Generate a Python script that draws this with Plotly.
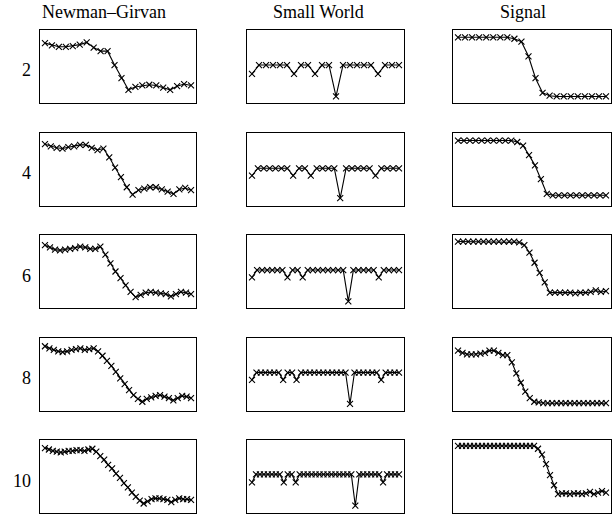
import plotly.graph_objects as go

methods = ["Newman–Girvan", "Small World", "Signal"]
row_labels = ["2", "4", "6", "8", "10"]

# Newman–Girvan series (one per row)
ng_2 = [0.82, 0.79, 0.77, 0.77, 0.78, 0.80, 0.83, 0.76, 0.71, 0.71, 0.52, 0.34, 0.18, 0.22, 0.24, 0.25, 0.24, 0.21, 0.18, 0.23, 0.26, 0.24]
ng_4 = [0.84, 0.81, 0.79, 0.78, 0.80, 0.81, 0.83, 0.83, 0.79, 0.76, 0.78, 0.66, 0.52, 0.39, 0.25, 0.15, 0.21, 0.23, 0.25, 0.25, 0.22, 0.19, 0.16, 0.22, 0.24, 0.21]
ng_6 = [0.86, 0.83, 0.80, 0.79, 0.80, 0.81, 0.82, 0.84, 0.83, 0.81, 0.81, 0.84, 0.73, 0.61, 0.50, 0.41, 0.31, 0.22, 0.15, 0.18, 0.21, 0.22, 0.21, 0.20, 0.19, 0.16, 0.19, 0.22, 0.21, 0.19]
ng_8 = [0.88, 0.85, 0.83, 0.81, 0.80, 0.81, 0.83, 0.84, 0.85, 0.83, 0.84, 0.85, 0.81, 0.75, 0.68, 0.61, 0.53, 0.44, 0.36, 0.28, 0.21, 0.16, 0.12, 0.16, 0.18, 0.20, 0.21, 0.19, 0.17, 0.14, 0.17, 0.20, 0.19, 0.17]
ng_10 = [0.89, 0.87, 0.85, 0.84, 0.83, 0.84, 0.85, 0.85, 0.86, 0.86, 0.85, 0.87, 0.88, 0.84, 0.78, 0.73, 0.66, 0.61, 0.54, 0.48, 0.41, 0.35, 0.28, 0.22, 0.17, 0.13, 0.16, 0.19, 0.20, 0.20, 0.19, 0.18, 0.15, 0.18, 0.20, 0.19, 0.19, 0.18]

# Small World series
sw_2 = [0.40, 0.52, 0.52, 0.52, 0.52, 0.52, 0.40, 0.52, 0.52, 0.40, 0.52, 0.52, 0.09, 0.52, 0.52, 0.52, 0.52, 0.52, 0.40, 0.52, 0.52, 0.52]
sw_4 = [0.41, 0.51, 0.51, 0.51, 0.51, 0.51, 0.51, 0.41, 0.51, 0.51, 0.41, 0.51, 0.51, 0.51, 0.51, 0.10, 0.51, 0.51, 0.51, 0.51, 0.51, 0.41, 0.51, 0.51, 0.51, 0.51]
sw_6 = [0.42, 0.52, 0.52, 0.52, 0.52, 0.52, 0.52, 0.42, 0.52, 0.52, 0.42, 0.52, 0.52, 0.52, 0.52, 0.52, 0.52, 0.52, 0.52, 0.09, 0.52, 0.52, 0.52, 0.52, 0.52, 0.42, 0.52, 0.52, 0.52, 0.52]
sw_8 = [0.42, 0.52, 0.52, 0.52, 0.52, 0.52, 0.52, 0.42, 0.52, 0.52, 0.42, 0.52, 0.52, 0.52, 0.52, 0.52, 0.52, 0.52, 0.52, 0.52, 0.52, 0.52, 0.09, 0.52, 0.52, 0.52, 0.52, 0.52, 0.52, 0.42, 0.52, 0.52, 0.52, 0.52]
sw_10 = [0.42, 0.53, 0.53, 0.53, 0.53, 0.53, 0.53, 0.53, 0.42, 0.53, 0.53, 0.42, 0.53, 0.53, 0.53, 0.53, 0.53, 0.53, 0.53, 0.53, 0.53, 0.53, 0.53, 0.53, 0.53, 0.53, 0.10, 0.53, 0.53, 0.53, 0.53, 0.53, 0.53, 0.42, 0.53, 0.53, 0.53, 0.53]

# Signal series
sig_2 = [0.90, 0.90, 0.90, 0.90, 0.90, 0.90, 0.90, 0.90, 0.88, 0.84, 0.64, 0.34, 0.14, 0.10, 0.09, 0.09, 0.09, 0.09, 0.09, 0.09, 0.09, 0.09]
sig_4 = [0.89, 0.89, 0.89, 0.89, 0.89, 0.89, 0.89, 0.89, 0.89, 0.89, 0.87, 0.82, 0.69, 0.55, 0.36, 0.16, 0.14, 0.14, 0.14, 0.14, 0.14, 0.14, 0.14, 0.14, 0.14, 0.14]
sig_6 = [0.91, 0.91, 0.91, 0.91, 0.91, 0.91, 0.91, 0.91, 0.91, 0.91, 0.91, 0.91, 0.90, 0.86, 0.76, 0.62, 0.48, 0.35, 0.21, 0.21, 0.21, 0.21, 0.21, 0.20, 0.21, 0.21, 0.22, 0.24, 0.22, 0.23]
sig_8 = [0.82, 0.79, 0.77, 0.77, 0.77, 0.78, 0.79, 0.82, 0.82, 0.79, 0.76, 0.76, 0.66, 0.51, 0.38, 0.26, 0.17, 0.12, 0.11, 0.10, 0.10, 0.10, 0.10, 0.10, 0.10, 0.10, 0.10, 0.10, 0.10, 0.10, 0.10, 0.10, 0.10, 0.10]
sig_10 = [0.92, 0.92, 0.92, 0.92, 0.92, 0.92, 0.92, 0.92, 0.92, 0.92, 0.92, 0.92, 0.92, 0.92, 0.92, 0.92, 0.92, 0.92, 0.92, 0.92, 0.88, 0.80, 0.67, 0.52, 0.38, 0.26, 0.27, 0.27, 0.26, 0.27, 0.27, 0.26, 0.27, 0.29, 0.26, 0.28, 0.30, 0.28]

grid = [
    [ng_2, sw_2, sig_2],
    [ng_4, sw_4, sig_4],
    [ng_6, sw_6, sig_6],
    [ng_8, sw_8, sig_8],
    [ng_10, sw_10, sig_10],
]

W, H = 613, 515
col_px = [(40, 196), (247, 404), (453, 611)]
title_cx = [104, 318, 523]
row_top0, row_step, row_h = 30, 102.5, 73

FONT = "Liberation Serif, Times New Roman, serif"
fig = go.Figure()
annotations = []
k = 0
for r in range(5):
    top = row_top0 + r * row_step
    bot = top + row_h
    ydom = [(H - bot) / H, (H - top) / H]
    for c in range(3):
        k += 1
        xa = "x" if k == 1 else f"x{k}"
        ya = "y" if k == 1 else f"y{k}"
        vals = grid[r][c]
        n = len(vals)
        xs = list(range(n))
        fig.add_trace(go.Scatter(
            x=xs, y=vals, xaxis=xa, yaxis=ya, mode="lines+markers",
            line=dict(color="black", width=1.1),
            marker=dict(symbol="x-thin", size=6, color="black",
                        line=dict(width=1.1, color="black")),
            showlegend=False, hoverinfo="skip"))
        pad = 0.034 * (n - 1)
        x0, x1 = col_px[c]
        axkw = dict(showgrid=False, zeroline=False, showticklabels=False,
                    ticks="", showline=True, mirror=True, linecolor="black",
                    linewidth=1.3)
        fig.layout[("xaxis" if k == 1 else f"xaxis{k}")] = dict(
            domain=[x0 / W, x1 / W], range=[-pad, n - 1 + pad],
            anchor=ya, **axkw)
        fig.layout[("yaxis" if k == 1 else f"yaxis{k}")] = dict(
            domain=ydom, range=[0, 1], anchor=xa, **axkw)
    annotations.append(dict(
        text=row_labels[r], xref="paper", yref="paper",
        x=33 / W, y=(H - (top + row_h / 2 + 4)) / H,
        xanchor="right", yanchor="middle", showarrow=False,
        font=dict(family=FONT, size=18, color="black")))

for c in range(3):
    annotations.append(dict(
        text=methods[c], xref="paper", yref="paper",
        x=title_cx[c] / W, y=(H - 12) / H,
        xanchor="center", yanchor="middle", showarrow=False,
        font=dict(family=FONT, size=18, color="black")))

fig.update_layout(
    width=W, height=H, margin=dict(l=0, r=0, t=0, b=0),
    paper_bgcolor="white", plot_bgcolor="white",
    font=dict(family=FONT),
    annotations=annotations)

fig.write_html("out.html")
